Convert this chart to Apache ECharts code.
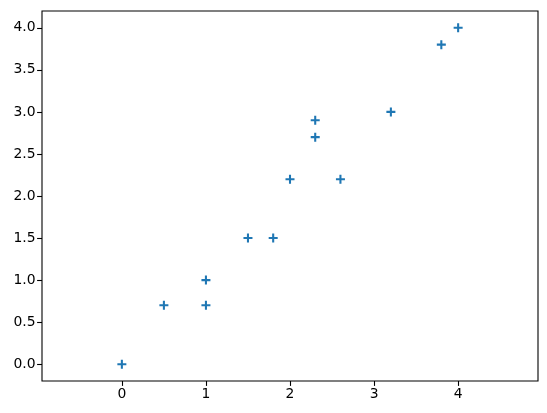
<!DOCTYPE html>
<html><head><meta charset="utf-8">
<script src="https://cdn.jsdelivr.net/npm/echarts@6/dist/echarts.min.js"></script>
<style>html,body{margin:0;padding:0;background:#fff}#c{width:547px;height:413px}</style>
</head><body><div id="c"></div>
<script>
const xValues = [0, 0.5, 1, 1, 1.5, 1.8, 2, 2.3, 2.3, 2.6, 3.2, 3.8, 4];
const yValues = [0, 0.7, 0.7, 1.0, 1.5, 1.5, 2.2, 2.7, 2.9, 2.2, 3.0, 3.8, 4.0];
const xTicks = [0, 1, 2, 3, 4];
const yTicks = [0, 0.5, 1, 1.5, 2, 2.5, 3, 3.5, 4];

const chart = echarts.init(document.getElementById('c'), null, {renderer: 'canvas'});
const font = {fontFamily: 'DejaVu Sans', fontSize: 13.9, color: '#000'};
chart.setOption({
  animation: false,
  grid: {left: 42, right: 9, top: 11, bottom: 32, show: true, borderColor: '#000', borderWidth: 1.1, backgroundColor: 'transparent', containLabel: false},
  xAxis: {
    type: 'value', min: -0.95, max: 4.95, position: 'bottom',
    splitLine: {show: false},
    axisLine: {show: false, onZero: false},
    axisTick: {show: true, length: 4.9, inside: false, customValues: xTicks, lineStyle: {color: '#000', width: 1.1}},
    axisLabel: {show: true, customValues: xTicks, margin: 6.5, formatter: v => String(Math.round(v)), ...font}
  },
  yAxis: {
    type: 'value', min: -0.2, max: 4.2, position: 'left',
    splitLine: {show: false},
    axisLine: {show: false, onZero: false},
    axisTick: {show: true, length: 4.9, inside: false, customValues: yTicks, lineStyle: {color: '#000', width: 1.1}},
    axisLabel: {show: true, customValues: yTicks, margin: 6.5, formatter: v => v.toFixed(1), ...font}
  },
  series: [{
    type: 'scatter',
    data: xValues.map((x, i) => [x, yValues[i]]),
    symbol: 'path://M-0.23,-1H0.23V-0.23H1V0.23H0.23V1H-0.23V0.23H-1V-0.23H-0.23Z',
    symbolSize: 9,
    itemStyle: {color: '#1f77b4', opacity: 1}
  }]
});
</script></body></html>
